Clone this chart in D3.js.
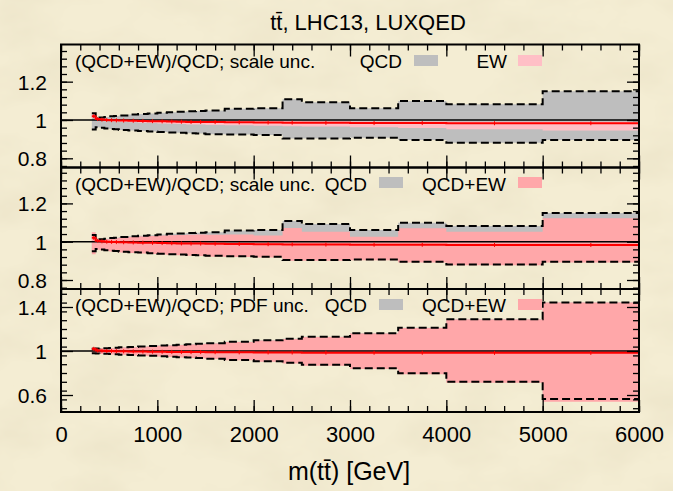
<!DOCTYPE html>
<html>
<head>
<meta charset="utf-8">
<script src="https://cdn.jsdelivr.net/npm/d3@7"></script>
<style>
  html, body { margin: 0; padding: 0; background: #f3ecd1; }
  svg { display: block; }
  text { font-family: "Liberation Sans", Arial, Helvetica, sans-serif; fill: #000; }
</style>
</head>
<body>
<svg id="chart" width="673" height="491"></svg>
<script>
// ---- m(tt) binning [GeV] ----
const binEdges = [320, 360, 400, 450, 500, 550, 600, 700, 800, 900, 1000, 1100, 1200,
                  1300, 1400, 1500, 1700, 2000, 2300, 2500, 3000, 3500, 4000, 5000, 6000];

// (QCD+EW)/QCD central ratio per bin
const ratioCentral = [1.020, 1.005, 1.002, 1.000, 0.999, 0.998, 0.997, 0.996, 0.995, 0.994, 0.993, 0.992,
                      0.991, 0.990, 0.990, 0.989, 0.988, 0.987, 0.986, 0.985, 0.984, 0.984, 0.983, 0.983];

// scale uncertainty, QCD (relative to QCD central)
const scaleQcdHi = [1.035, 1.010, 1.013, 1.016, 1.019, 1.021, 1.024, 1.028, 1.031, 1.034, 1.038, 1.041,
                    1.043, 1.045, 1.047, 1.049, 1.058, 1.061, 1.108, 1.092, 1.061, 1.099, 1.082, 1.150];
const scaleQcdLo = [0.950, 0.962, 0.959, 0.956, 0.953, 0.951, 0.948, 0.945, 0.943, 0.940, 0.937, 0.935,
                    0.933, 0.931, 0.929, 0.926, 0.924, 0.921, 0.904, 0.904, 0.907, 0.895, 0.881, 0.895];

// scale uncertainty of the EW ratio
const scaleEwHi = [1.028, 1.008, 1.006, 1.004, 1.003, 1.002, 1.001, 1.000, 0.999, 0.998, 0.998, 0.997,
                   0.996, 0.995, 0.995, 0.994, 0.994, 0.993, 0.993, 0.992, 0.992, 0.992, 0.991, 0.991];
const scaleEwLo = [1.012, 1.001, 0.998, 0.996, 0.994, 0.992, 0.990, 0.988, 0.986, 0.984, 0.982, 0.980,
                   0.979, 0.977, 0.976, 0.974, 0.972, 0.970, 0.967, 0.966, 0.962, 0.958, 0.951, 0.945];

// scale uncertainty, QCD+EW
const scaleQcdEwHi = [1.050, 1.007, 1.010, 1.013, 1.016, 1.018, 1.021, 1.024, 1.027, 1.030, 1.032, 1.034,
                      1.035, 1.036, 1.037, 1.036, 1.038, 1.032, 1.072, 1.052, 1.026, 1.070, 1.052, 1.122];
const scaleQcdEwLo = [0.935, 0.958, 0.955, 0.952, 0.949, 0.947, 0.944, 0.941, 0.939, 0.936, 0.933, 0.931,
                      0.929, 0.927, 0.925, 0.922, 0.920, 0.917, 0.900, 0.900, 0.903, 0.891, 0.877, 0.891];

// PDF uncertainty, QCD
const pdfQcdHi = [1.020, 1.022, 1.024, 1.026, 1.028, 1.030, 1.033, 1.037, 1.041, 1.045, 1.049, 1.053,
                  1.057, 1.061, 1.065, 1.071, 1.083, 1.097, 1.112, 1.130, 1.161, 1.212, 1.288, 1.442];
const pdfQcdLo = [0.980, 0.978, 0.976, 0.974, 0.972, 0.970, 0.967, 0.963, 0.960, 0.956, 0.952, 0.948,
                  0.944, 0.940, 0.936, 0.930, 0.919, 0.907, 0.893, 0.874, 0.843, 0.797, 0.721, 0.564];

// PDF uncertainty, QCD+EW
const pdfQcdEwHi = [1.030, 1.020, 1.022, 1.024, 1.026, 1.028, 1.031, 1.035, 1.039, 1.043, 1.047, 1.051,
                    1.055, 1.059, 1.063, 1.069, 1.081, 1.095, 1.110, 1.128, 1.159, 1.210, 1.286, 1.440];
const pdfQcdEwLo = [0.975, 0.975, 0.973, 0.971, 0.969, 0.967, 0.964, 0.960, 0.957, 0.953, 0.949, 0.945,
                    0.941, 0.937, 0.933, 0.927, 0.915, 0.902, 0.887, 0.867, 0.836, 0.788, 0.712, 0.539];

// axis ticks
const xTicks = [0, 1000, 2000, 3000, 4000, 5000, 6000];
const yTicksScale = [0.8, 1, 1.2];
const yTicksPdf = [0.6, 1, 1.4];

const W = 673, H = 491;
const GREY = "#bebebe", PINK_LIGHT = "#ffbfc6", PINK = "#ffa7a9";

const svg = d3.select("#chart");

// paper-like background
const defs = svg.append("defs");
const paper = defs.append("filter").attr("id", "paper")
  .attr("x", 0).attr("y", 0).attr("width", "100%").attr("height", "100%");
paper.append("feTurbulence").attr("type", "fractalNoise")
  .attr("baseFrequency", "0.014 0.022").attr("numOctaves", 4).attr("seed", 11).attr("result", "n");
paper.append("feColorMatrix").attr("in", "n").attr("type", "matrix")
  .attr("values", "0 0 0 0 0.60  0 0 0 0 0.52  0 0 0 0 0.34  0.28 0 0 0 -0.10");
svg.append("rect").attr("width", W).attr("height", H).attr("fill", "#f4edd3");
svg.append("rect").attr("width", W).attr("height", H).attr("filter", "url(#paper)");

const x = d3.scaleLinear().domain([0, 6000]).range([61, 639]);

// expand per-bin values into step points
function steps(lo, hi) {
  const pts = [];
  for (let i = 0; i < binEdges.length - 1; i++) {
    pts.push({ x: binEdges[i], lo: lo[i], hi: hi ? hi[i] : lo[i] });
    pts.push({ x: binEdges[i + 1], lo: lo[i], hi: hi ? hi[i] : lo[i] });
  }
  return pts;
}

const panels = [
  {
    top: 44.5, bottom: 167.5, domain: [0.752, 1.394], major: yTicksScale, minorStep: 0.04,
    label: "(QCD+EW)/QCD; scale unc.", labelY: 68,
    bands: [{ lo: scaleQcdLo, hi: scaleQcdHi, fill: GREY }, { lo: scaleEwLo, hi: scaleEwHi, fill: PINK_LIGHT }],
    dashed: [scaleQcdHi, scaleQcdLo],
    legend: [{ text: "QCD", end: 402, x0: 414, fill: GREY }, { text: "EW", end: 507, x0: 518, fill: PINK_LIGHT }],
    swatchY: 55
  },
  {
    top: 167.5, bottom: 289, domain: [0.753, 1.3875], major: yTicksScale, minorStep: 0.04,
    label: "(QCD+EW)/QCD; scale unc.", labelY: 190.5,
    bands: [{ lo: scaleQcdLo, hi: scaleQcdHi, fill: GREY }, { lo: scaleQcdEwLo, hi: scaleQcdEwHi, fill: PINK }],
    dashed: [scaleQcdHi, scaleQcdLo],
    legend: [{ text: "QCD", end: 367, x0: 379, fill: GREY }, { text: "QCD+EW", end: 506, x0: 518, fill: PINK }],
    swatchY: 177
  },
  {
    top: 289, bottom: 412, domain: [0.4455, 1.5636], major: yTicksPdf, minorStep: 0.08,
    label: "(QCD+EW)/QCD; PDF unc.", labelY: 311.5,
    bands: [{ lo: pdfQcdLo, hi: pdfQcdHi, fill: GREY }, { lo: pdfQcdEwLo, hi: pdfQcdEwHi, fill: PINK }],
    dashed: [pdfQcdHi, pdfQcdLo],
    legend: [{ text: "QCD", end: 367, x0: 379, fill: GREY }, { text: "QCD+EW", end: 506, x0: 518, fill: PINK }],
    swatchY: 299
  }
];

const xMinor = d3.range(0, 31).map(k => k * 200);

panels.forEach((p, idx) => {
  const y = d3.scaleLinear().domain(p.domain).range([p.bottom, p.top]);
  const g = svg.append("g");

  // clip to the plotting frame
  const clipId = "clip" + idx;
  defs.append("clipPath").attr("id", clipId).append("rect")
    .attr("x", x(0)).attr("y", p.top).attr("width", x(6000) - x(0)).attr("height", p.bottom - p.top);
  const plot = g.append("g").attr("clip-path", `url(#${clipId})`);

  // uncertainty bands
  p.bands.forEach(b => {
    plot.append("path").datum(steps(b.lo, b.hi))
      .attr("fill", b.fill)
      .attr("d", d3.area().x(d => x(d.x)).y0(d => y(d.lo)).y1(d => y(d.hi)));
  });

  // reference line at 1
  plot.append("line").attr("x1", x(0)).attr("x2", x(6000)).attr("y1", y(1)).attr("y2", y(1))
    .attr("stroke", "#000").attr("stroke-width", 1.5);

  // dashed band edges
  const stepLine = d3.line().x(d => x(d.x)).y(d => y(d.lo));
  p.dashed.forEach(arr => {
    plot.append("path").datum(steps(arr))
      .attr("fill", "none").attr("stroke", "#000").attr("stroke-width", 2)
      .attr("stroke-dasharray", "8,4").attr("d", stepLine);
  });

  // central ratio
  plot.append("path").datum(steps(ratioCentral))
    .attr("fill", "none").attr("stroke", "#ff0000").attr("stroke-width", 2).attr("d", stepLine);
  const centres = ratioCentral.map((v, i) => ({ x: (binEdges[i] + binEdges[i + 1]) / 2, v }));
  plot.selectAll(".err").data(centres).join("line")
    .attr("x1", d => x(d.x)).attr("x2", d => x(d.x))
    .attr("y1", d => y(d.v) - 2).attr("y2", d => y(d.v) + 2)
    .attr("stroke", "#ff0000").attr("stroke-width", 1);

  // y ticks, all pointing inwards
  const d0 = p.domain[0], d1 = p.domain[1];
  const yMinor = d3.range(Math.ceil(d0 / p.minorStep), Math.floor(d1 / p.minorStep) + 1)
    .map(k => +(k * p.minorStep).toFixed(3));
  const style = sel => {
    sel.select(".domain").remove();
    sel.selectAll(".tick line").attr("stroke", "#000").attr("stroke-width", 1.3);
    sel.attr("font-family", null).attr("font-size", null);
  };
  g.append("g").attr("transform", `translate(${x(0)},0)`)
    .call(d3.axisLeft(y).tickValues(yMinor).tickSize(-6).tickFormat("")).call(style);
  g.append("g").attr("transform", `translate(${x(6000)},0)`)
    .call(d3.axisRight(y).tickValues(yMinor).tickSize(-6).tickFormat("")).call(style);
  const yLab = g.append("g").attr("transform", `translate(${x(0)},0)`)
    .call(d3.axisLeft(y).tickValues(p.major).tickSize(-12).tickPadding(14).tickFormat(d => String(d)))
    .call(style);
  yLab.selectAll("text").style("font-size", "21px").attr("dy", "0.36em");
  g.append("g").attr("transform", `translate(${x(6000)},0)`)
    .call(d3.axisRight(y).tickValues(p.major).tickSize(-12).tickFormat("")).call(style);

  // x ticks top and bottom of each panel
  g.append("g").attr("transform", `translate(0,${p.top})`)
    .call(d3.axisTop(x).tickValues(xMinor).tickSize(-6).tickFormat("")).call(style);
  g.append("g").attr("transform", `translate(0,${p.top})`)
    .call(d3.axisTop(x).tickValues(xTicks).tickSize(-12).tickFormat("")).call(style);
  g.append("g").attr("transform", `translate(0,${p.bottom})`)
    .call(d3.axisBottom(x).tickValues(xMinor).tickSize(-6).tickFormat("")).call(style);
  const xAx = g.append("g").attr("transform", `translate(0,${p.bottom})`)
    .call(d3.axisBottom(x).tickValues(xTicks).tickSize(-12).tickPadding(14)
      .tickFormat(idx === panels.length - 1 ? (d => String(d)) : ""))
    .call(style);
  xAx.selectAll("text").style("font-size", "22px");

  // frame
  g.append("rect").attr("x", x(0)).attr("y", p.top)
    .attr("width", x(6000) - x(0)).attr("height", p.bottom - p.top)
    .attr("fill", "none").attr("stroke", "#000").attr("stroke-width", 2);

  // key
  g.append("text").attr("x", 75).attr("y", p.labelY).style("font-size", "19px").text(p.label);
  p.legend.forEach(k => {
    g.append("text").attr("x", k.end).attr("y", p.labelY).attr("text-anchor", "end")
      .style("font-size", "19px").text(k.text);
    g.append("rect").attr("x", k.x0).attr("y", p.swatchY).attr("width", 24).attr("height", 11)
      .attr("fill", k.fill);
  });
});

// titles
svg.append("text").attr("x", 368).attr("y", 30).attr("text-anchor", "middle")
  .style("font-size", "22px").text("tt\u0304, LHC13, LUXQED");
svg.append("text").attr("x", 349).attr("y", 480).attr("text-anchor", "middle")
  .style("font-size", "25px").text("m(tt\u0304) [GeV]");
</script>
</body>
</html>
